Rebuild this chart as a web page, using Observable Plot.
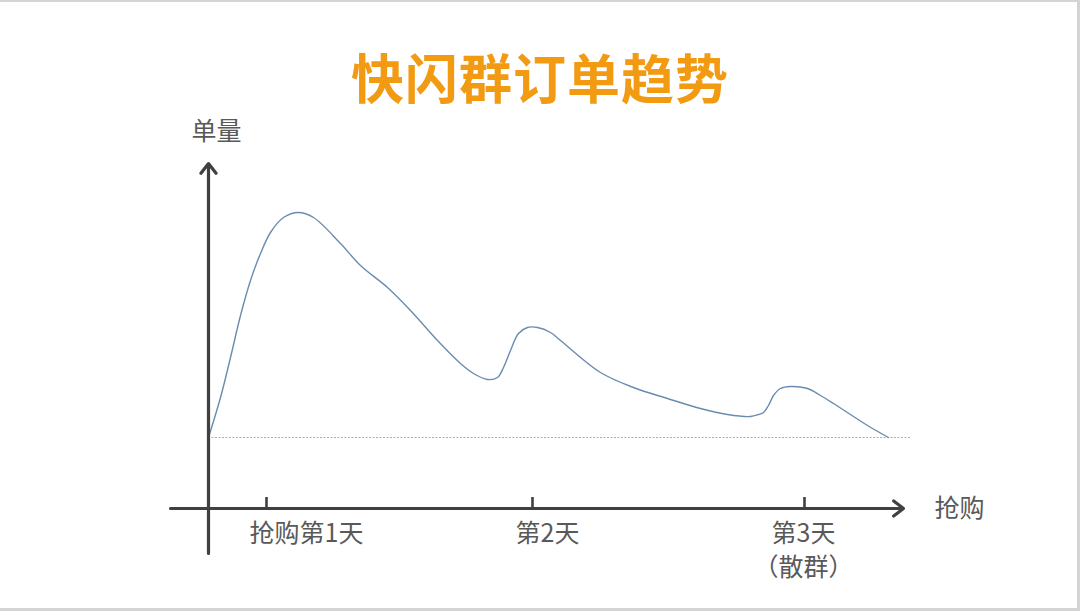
<!DOCTYPE html>
<html>
<head>
<meta charset="utf-8">
<script src="https://cdn.jsdelivr.net/npm/d3@7"></script>
<script src="https://cdn.jsdelivr.net/npm/@observablehq/plot@0.6"></script>
<style>
  html, body { margin: 0; padding: 0; background: #fff; }
  #wrap { position: relative; width: 1080px; height: 612px; overflow: hidden; font-family: "Noto Sans CJK SC", "Noto Sans", sans-serif; }
  #title { height: 110px; box-sizing: border-box; padding-top: 50px; text-align: center; font-size: 53px; font-weight: bold; color: #F29B12; line-height: 1; letter-spacing: 1px; }
  #frame { position: absolute; left: 0; top: 0; width: 1080px; height: 611px; box-sizing: border-box; border-top: 2px solid #d4d4d4; border-right: 3px solid #d4d4d4; border-bottom: 3px solid #d4d4d4; pointer-events: none; }
  svg { display: block; }
</style>
</head>
<body>
<div id="wrap">
  <div id="title">快闪群订单趋势</div>
  <div id="chart"></div>
  <div id="frame"></div>
</div>
<script>
// Curve: time (arbitrary units along the purchase axis) vs. order volume
const time   = [0, 12, 22, 32, 42, 52, 62, 75, 90, 105, 132, 152, 179, 202, 229, 252, 265, 279, 289, 295, 302, 310, 319, 329, 342, 352, 392, 425, 459, 492, 519, 542, 550, 555, 560, 565, 572, 582, 599, 612, 625, 659, 680];
const orders = [0, 40, 80, 122, 157, 184, 205, 220, 225, 220, 194, 172, 150, 127, 97, 74, 64, 58, 60, 70, 87, 104, 110, 110, 105, 97, 65, 50, 39, 29, 23, 21, 23, 25, 32, 42, 49, 51, 49, 42, 34, 12, 0];

// Day ticks on the time axis
const tickTimes = [58, 324, 596];
// Day tick labels
const tickLabels = ["抢购第1天", "第2天", "第3天"];
const tickLabelTimes = [98, 339, 595];
const subLabel = "（散群）";

// Axis extents
const xAxisStart = -38, xAxisEnd = 695, xAxisLevel = -71;
const yAxisBottom = -116, yAxisTop = 274;
const baselineEnd = 703;

const curve = time.map((t, i) => ({t, v: orders[i]}));
const ticks = tickTimes.map(t => ({t}));
const labels = tickLabels.map((s, i) => ({t: tickLabelTimes[i], s}));

const axisColor = "#404040";
const textColor = "#595959";

const chart = Plot.plot({
  width: 1080,
  height: 502,
  margin: 0,
  x: {domain: [-208, 872], axis: null},
  y: {domain: [-175, 327], axis: null},
  style: {fontFamily: '"Noto Sans CJK SC", "Noto Sans", sans-serif', background: "transparent"},
  marks: [
    // dashed baseline
    Plot.ruleY([0], {x1: 0, x2: baselineEnd, stroke: "#9a9a9a", strokeWidth: 0.8, strokeDasharray: "2,1.5"}),
    // curve
    Plot.line(curve, {x: "t", y: "v", curve: "catmull-rom", stroke: "#6A8CAF", strokeWidth: 1.4}),
    // y axis with arrow
    Plot.arrow([{}], {x1: 0, y1: yAxisBottom, x2: 0, y2: yAxisTop, stroke: axisColor, strokeWidth: 3.2, headAngle: 75, headLength: 5.8}),
    // x axis with arrow
    Plot.arrow([{}], {x1: xAxisStart, y1: xAxisLevel, x2: xAxisEnd, y2: xAxisLevel, stroke: axisColor, strokeWidth: 3.2, headAngle: 75, headLength: 5.8}),
    // ticks
    Plot.ruleX(ticks, {x: "t", y1: xAxisLevel, y2: xAxisLevel + 11, stroke: axisColor, strokeWidth: 2.6}),
    // tick labels
    Plot.text(labels, {x: "t", y: -96, text: "s", fontSize: 25, fill: textColor, lineAnchor: "middle"}),
    Plot.text([subLabel], {x: tickLabelTimes[2], y: -130, text: d => d, fontSize: 25, fill: textColor, lineAnchor: "middle"}),
    // axis titles
    Plot.text(["抢购"], {x: 751, y: xAxisLevel, text: d => d, fontSize: 25, fill: textColor, lineAnchor: "middle"}),
    Plot.text(["单量"], {x: 8, y: 306, text: d => d, fontSize: 25, fill: textColor, lineAnchor: "middle"})
  ]
});
document.getElementById("chart").appendChild(chart);
</script>
</body>
</html>
